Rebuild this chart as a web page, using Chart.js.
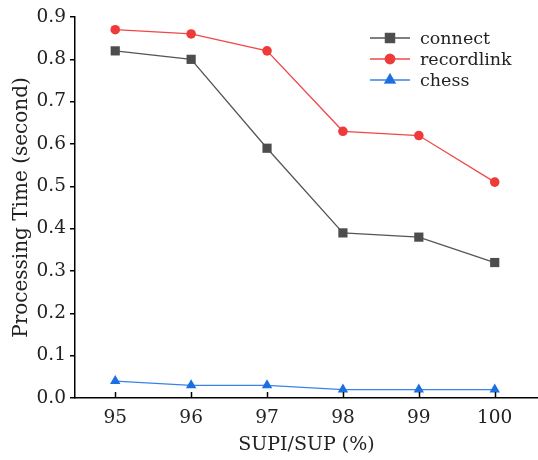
<!DOCTYPE html>
<html>
<head>
<meta charset="utf-8">
<script src="https://cdn.jsdelivr.net/npm/chart.js@4"></script>
<style>
  html, body { margin: 0; padding: 0; background: #fff; overflow: hidden; }
  #wrap { width: 538px; height: 460px; }
</style>
</head>
<body>
<div id="wrap"><canvas id="chartTime"></canvas></div>
<script>
const supRatio = [95, 96, 97, 98, 99, 100];
const connect = [0.82, 0.80, 0.59, 0.39, 0.38, 0.32];
const recordlink = [0.87, 0.86, 0.82, 0.63, 0.62, 0.51];
const chess = [0.04, 0.03, 0.03, 0.02, 0.02, 0.02];
const yTicks = [0, 0.1, 0.2, 0.3, 0.4, 0.5, 0.6, 0.7, 0.8, 0.9];

const serif = "'DejaVu Serif', 'Liberation Serif', serif";

const series = [
    { label: 'connect', values: connect, color: '#4d4d4d', line: '#555555', style: 'rect', r: 6.5 },
    { label: 'recordlink', values: recordlink, color: '#ef3a3a', line: '#f04848', style: 'circle', r: 4.8 },
    { label: 'chess', values: chess, color: '#1c6fe0', line: '#3a82ea', style: 'triangle', r: 6 }
];

// legend drawn inside the plot: short line with marker in the middle
const insideLegend = {
    id: 'insideLegend',
    afterDraw(chart) {
        const c = chart.ctx;
        c.save();
        series.forEach((s, i) => {
            const y = 38 + i * 21;
            c.strokeStyle = s.line;
            c.lineWidth = 1.3;
            c.beginPath();
            c.moveTo(370, y);
            c.lineTo(410, y);
            c.stroke();
            Chart.helpers.drawPoint(c, { pointStyle: s.style, radius: s.r, borderWidth: 1 }, 390, y);
            c.fillStyle = s.color;
            c.strokeStyle = s.color;
            c.fill();
            c.fillStyle = '#222';
            c.font = "17.5px " + serif;
            c.textBaseline = 'middle';
            c.fillText(s.label, 420, y + 1);
        });
        c.restore();
    }
};

// x tick marks point inward (up into the plot)
const innerXTicks = {
    id: 'innerXTicks',
    afterDraw(chart) {
        const c = chart.ctx;
        const sx = chart.scales.x;
        const bottom = chart.chartArea.bottom;
        c.save();
        c.strokeStyle = '#000';
        c.lineWidth = 1.5;
        supRatio.forEach(v => {
            const px = Math.round(sx.getPixelForValue(v)) + 0.5;
            c.beginPath();
            c.moveTo(px, bottom);
            c.lineTo(px, bottom - 6);
            c.stroke();
        });
        c.restore();
    }
};

new Chart(document.getElementById('chartTime'), {
    type: 'line',
    data: {
        datasets: series.map(s => ({
            label: s.label,
            data: s.values.map((v, i) => ({ x: supRatio[i], y: v })),
            borderColor: s.line,
            backgroundColor: s.color,
            pointBackgroundColor: s.color,
            pointBorderColor: s.color,
            pointStyle: s.style,
            pointRadius: s.r,
            pointBorderWidth: 0,
            borderWidth: 1.3,
            tension: 0,
            clip: false
        }))
    },
    options: {
        responsive: true,
        maintainAspectRatio: false,
        animation: false,
        layout: { autoPadding: false, padding: { top: 17, right: 0, left: 0, bottom: 0 } },
        scales: {
            x: {
                type: 'linear',
                min: 94.47,
                max: 100.57,
                afterBuildTicks: scale => { scale.ticks = supRatio.map(v => ({ value: v })); },
                afterFit: scale => {
                    scale.height = 62;
                    scale.paddingLeft = 0;
                    scale.paddingRight = 0;
                },
                grid: { display: false, drawTicks: false },
                border: { color: '#000', width: 1.5 },
                ticks: {
                    color: '#222',
                    font: { family: serif, size: 18.5 },
                    padding: 9,
                    maxRotation: 0,
                    callback: v => String(v)
                },
                title: {
                    display: true,
                    text: 'SUPI/SUP (%)',
                    color: '#222',
                    font: { family: serif, size: 19 },
                    padding: { top: 0 }
                }
            },
            y: {
                min: 0,
                max: 0.9,
                afterBuildTicks: scale => { scale.ticks = yTicks.map(v => ({ value: v })); },
                afterFit: scale => {
                    scale.width = 75;
                    scale.paddingTop = 0;
                    scale.paddingBottom = 0;
                },
                grid: { drawOnChartArea: false, drawTicks: true, tickLength: 5, color: '#000', lineWidth: 1.5 },
                border: { color: '#000', width: 1.5 },
                ticks: {
                    color: '#222',
                    font: { family: serif, size: 18.5 },
                    padding: 4,
                    callback: v => v.toFixed(1)
                },
                title: {
                    display: true,
                    text: 'Processing Time (second)',
                    color: '#222',
                    font: { family: serif, size: 20 },
                    padding: { top: 10, bottom: 0 }
                }
            }
        },
        plugins: {
            legend: { display: false },
            tooltip: { enabled: false }
        }
    },
    plugins: [insideLegend, innerXTicks]
});
</script>
</body>
</html>
